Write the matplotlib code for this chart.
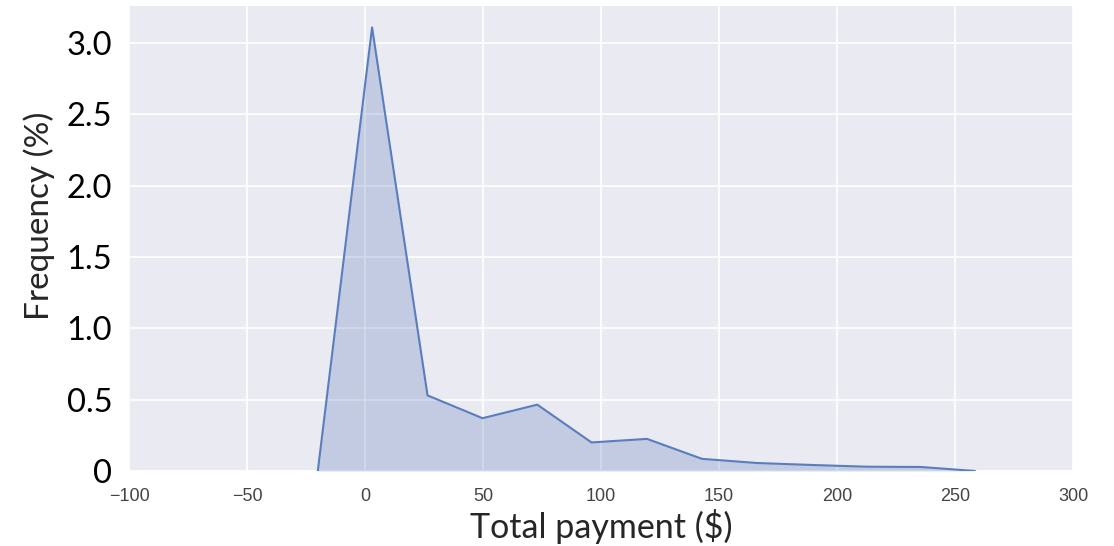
import matplotlib
matplotlib.use("Agg")
import matplotlib.pyplot as plt
import seaborn as sns

# Data (frequency polygon)
payment = [-20, 3, 26.5, 49.8, 73, 96, 119.5, 142.8, 166, 189.5, 212.5, 235.5, 258.5]
freq = [0.0, 3.11, 0.53, 0.37, 0.465, 0.20, 0.225, 0.085, 0.056, 0.042, 0.03, 0.028, 0.0]

xticks = [-100, -50, 0, 50, 100, 150, 200, 250, 300]
yticks = [0, 0.5, 1.0, 1.5, 2.0, 2.5, 3.0]
ytick_labels = ["0", "0.5", "1.0", "1.5", "2.0", "2.5", "3.0"]

sns.set_style("darkgrid")
plt.rcParams['font.family'] = ['DejaVu Sans']
big_font = ["Lato", "DejaVu Sans"]

fig = plt.figure(figsize=(11.14, 5.46), dpi=100)
ax = fig.add_axes([0.1158, 0.1374, 0.8474, 0.8516])

color = "#4C72B0"
ax.fill_between(payment, freq, 0, color=color, alpha=0.25, linewidth=0)
ax.plot(payment, freq, color="#5a7dbd", linewidth=1.5)

ax.set_xlim(-100, 300)
ax.set_ylim(0, 3.26)
ax.set_xticks(xticks)
ax.set_xticklabels([("\u2212" + str(abs(t))) if t < 0 else str(t) for t in xticks],
                   fontsize=13, color="#444444", family=["Liberation Sans", "DejaVu Sans"])
ax.set_yticks(yticks)
ax.set_yticklabels(ytick_labels, fontsize=23.5, color="black", family=big_font)
ax.tick_params(axis='x', pad=12, length=0)
ax.tick_params(axis='y', pad=12, length=0)

ax.set_xlabel("Total payment ($)", fontsize=24.5, family=big_font)
ax.xaxis.set_label_coords(0.5, -0.082)
ax.set_ylabel("Frequency (%)", fontsize=24, family=big_font)
ax.yaxis.set_label_coords(-0.078, 0.549)

ax.grid(True, color="white", linewidth=1.2)
for s in ax.spines.values():
    s.set_visible(False)

fig.savefig("out.png", dpi=100)
